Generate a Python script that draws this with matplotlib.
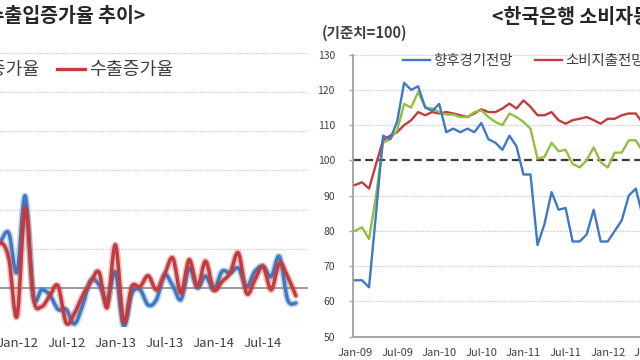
import numpy as np
import pandas as pd
import matplotlib
matplotlib.use('Agg')
import matplotlib.pyplot as plt
import matplotlib.patheffects as pe
from matplotlib.path import Path
from matplotlib.patches import PathPatch
from matplotlib.lines import Line2D

plt.rcParams['font.family'] = ['Noto Sans CJK KR', 'DejaVu Sans']

# ---- left chart: monthly import / export growth (%), from Oct-11
trade_start = '2011-10'
import_growth = [10, 12, 14, 4, 23.5, -2, -0.5, -1.8, -5.5, -5.5, -9.2, -4.5,
                 2, 0.8, -3, 4, -9.8, -1.5, -0.5, -4.4, -3, 3.3, 0.5, -3,
                 5, 0, 3, -0.5, 4.2, 3.8, 5, 0.3, 4.2, 5.5, 2.9, 8, -3, -3.9]
export_growth = [8, 11.5, 7.5, -7.3, 20.4, -2.6, -4.8, -2, 0.5, -9, -6.5, -2,
                 1.5, 4, -5, 11, -8.6, 0.3, 0.3, 3.1, -0.5, 3.5, 7.6, -1.4,
                 7.2, 0.3, 6.8, -0.5, 1.6, 3.8, 8.9, -1.4, 2, 5.5, -0.5, 6.3, 2.9, -2]
trade_ticks = ['Jan-12', 'Jul-12', 'Jan-13', 'Jul-13', 'Jan-14', 'Jul-14']
trade_labels = ['수입증가율', '수출증가율']

# ---- right chart: consumer survey indices, from Jan-09
cs_start = '2009-01'
outlook = [66, 66, 64, 85, 107, 106, 111, 122, 120, 121, 115, 114, 116, 108,
           109, 108, 109, 108, 110.6, 106, 105, 103, 107, 104, 96, 96, 76, 82,
           91, 86, 86.5, 77, 77, 79, 86, 77, 77, 80, 83, 90, 92, 84]
spending = [93, 93.8, 92, 99, 105.7, 107, 108, 110, 111.4, 113.7, 112.8, 113.7,
            113.3, 113.7, 113.3, 112.8, 112.3, 113.3, 114.5, 113.7, 113.7, 114.7,
            116.1, 114.7, 117, 115.2, 112.8, 112.8, 113.7, 111.4, 110.4, 111.4,
            111.8, 112.3, 111.4, 110.4, 111.8, 111.8, 112.8, 113.3, 113.3, 110.5]
current = [80, 81, 77.7, 90, 105, 106, 108.5, 116, 115, 119.4, 115, 114.7,
           113.7, 113, 113, 112.3, 112.3, 113.7, 114.2, 112.3, 110.9, 110,
           113.3, 112.3, 110.9, 109, 100.5, 101, 105, 102.6, 103, 99, 98, 100,
           103.7, 99.5, 98, 102.2, 102.2, 105.7, 105.7, 102.5]
cs_ticks = ['Jan-09', 'Jul-09', 'Jan-10', 'Jul-10', 'Jan-11', 'Jul-11', 'Jan-12', 'Jul-12']
cs_labels = ['향후경기전망', '소비지출전망', '현재경기판단']

BLUE = '#3f79c2'
RED = '#c23b3d'
GREEN = '#92bf43'
TXT = '#404040'
W, H = 640.0, 360.0


def month_index(start, n, origin):
    p = pd.period_range(start, periods=n, freq='M')
    o = pd.Period(origin, freq='M')
    return np.array([(q - o).n for q in p], dtype=float)


def tick_index(labels, origin):
    o = pd.Period(origin, freq='M')
    return [(pd.Period(pd.to_datetime(s, format='%b-%y'), freq='M') - o).n for s in labels]


def smooth_path(x, y):
    # Excel-style smoothed line: Catmull-Rom segments as cubic beziers
    pts = np.column_stack([x, y])
    n = len(pts)
    verts = [pts[0]]
    codes = [Path.MOVETO]
    for i in range(n - 1):
        p0 = pts[max(i - 1, 0)]
        p1 = pts[i]
        p2 = pts[i + 1]
        p3 = pts[min(i + 2, n - 1)]
        verts += [p1 + (p2 - p0) / 6.0, p2 - (p3 - p1) / 6.0, p2]
        codes += [Path.CURVE4] * 3
    return Path(verts, codes)


fig = plt.figure(figsize=(6.4, 3.6), dpi=100)

# ================= left chart =================
xl = month_index(trade_start, len(import_growth), '2012-01')
x0_px, dx_px = 17.0, 8.2
lo, hi = -14.5, 35.5
left_px = x0_px + dx_px * lo
right_px = x0_px + dx_px * hi
ax1 = fig.add_axes([left_px / W, (H - 327) / H, (right_px - left_px) / W, (327 - 53) / H])
ax1.set_xlim(lo, hi)
ax1.set_ylim(-10, 60)
ax1.set_yticks(range(-10, 61, 10))
ax1.yaxis.grid(True, color='#d2d2d2', linestyle=(0, (1.5, 1)), linewidth=0.9)
ax1.set_axisbelow(True)
for s in ax1.spines.values():
    s.set_visible(False)
ax1.axhline(0, color='#9c9c9c', lw=1.4, zorder=1)
ax1.set_xticks(tick_index(trade_ticks, '2012-01'))
ax1.set_xticklabels(trade_ticks)
ax1.tick_params(axis='x', length=0, pad=7, labelsize=9.5, labelcolor=TXT)
ax1.tick_params(axis='y', length=0, labelleft=False)

for vals, col in [(import_growth, BLUE), (export_growth, RED)]:
    patch = PathPatch(smooth_path(xl, np.array(vals, dtype=float)), fill=False,
                      edgecolor=col, lw=2.5, capstyle='round', joinstyle='round',
                      transform=ax1.transData, zorder=3)
    patch.set_path_effects([pe.Stroke(linewidth=4.8, foreground=col, alpha=0.3), pe.Normal()])
    ax1.add_patch(patch)

handles1 = [Line2D([], [], color=BLUE, lw=2.4), Line2D([], [], color=RED, lw=2.4)]
fig.legend(handles1, trade_labels, loc='center left',
           bbox_to_anchor=(-76 / W, 1 - 70 / H), ncol=2, frameon=False,
           fontsize=13.2, handlelength=1.5, handletextpad=0.21, columnspacing=0.96,
           borderpad=0, borderaxespad=0, labelcolor=TXT)
fig.text(145 / W, 1 - 17 / H, '<수출입증가율 추이>', ha='right', va='center',
         fontsize=14, fontweight='bold', color='#262626')

# ================= right chart =================
xr = month_index(cs_start, len(outlook), '2009-01')
r0_px, rdx_px = 355.0, 7.02
rlo, rhi = -0.3, 47.5
rl_px = r0_px + rdx_px * rlo
rr_px = r0_px + rdx_px * rhi
ax2 = fig.add_axes([rl_px / W, (H - 336.7) / H, (rr_px - rl_px) / W, (336.7 - 54.6) / H])
ax2.set_xlim(rlo, rhi)
ax2.set_ylim(50, 130)
ax2.set_yticks(range(50, 131, 10))
for v in range(60, 131, 10):
    if v != 100:
        ax2.axhline(v, color='#d2d2d2', linestyle=(0, (1.5, 1)), lw=0.9, zorder=0)
ax2.axhline(100, color='#3c3c3c', lw=1.6, linestyle=(0, (3.5, 2)), zorder=1)
for k in ['top', 'right']:
    ax2.spines[k].set_visible(False)
for k in ['left', 'bottom']:
    ax2.spines[k].set_color('#a6a6a6')
    ax2.spines[k].set_linewidth(1.4)
ax2.set_xticks(tick_index(cs_ticks, '2009-01'))
ax2.set_xticklabels(cs_ticks)
ax2.tick_params(axis='x', length=0, pad=8, labelsize=8, labelcolor=TXT)
ax2.tick_params(axis='y', length=3, width=1, color='#a6a6a6', pad=10,
                labelsize=7.5, labelcolor=TXT)

l_out, = ax2.plot(xr, outlook, color=BLUE, lw=1.7, zorder=4)
l_sp, = ax2.plot(xr, spending, color=RED, lw=1.7, zorder=3)
l_cu, = ax2.plot(xr, current, color=GREEN, lw=1.7, zorder=3)

fig.legend([l_out, l_sp, l_cu], cs_labels, loc='center left',
           bbox_to_anchor=(403 / W, 1 - 60.7 / H), ncol=3, frameon=False,
           fontsize=10.4, handlelength=1.86, handletextpad=0.21, columnspacing=1.59,
           borderpad=0, borderaxespad=0, labelcolor=TXT)
fig.text(492 / W, 1 - 17 / H, '<한국은행 소비자동향지수>', ha='left', va='center',
         fontsize=14, fontweight='bold', color='#262626')
fig.text(322 / W, 1 - 33 / H, '(기준치=100)', ha='left', va='center',
         fontsize=10.5, fontweight='bold', color=TXT)

fig.savefig('out.png', dpi=100)
